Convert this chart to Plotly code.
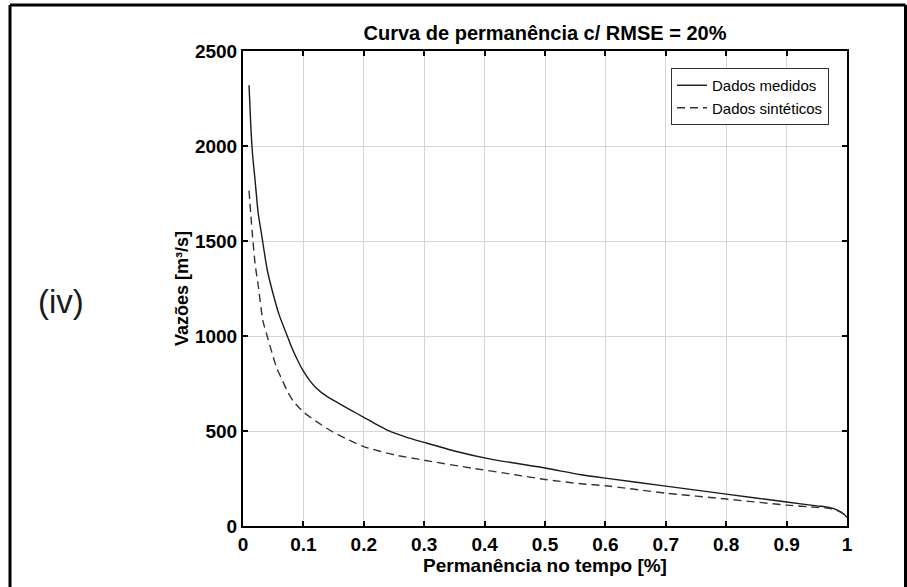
import plotly.graph_objects as go

# Flow duration curves (exceedance fraction vs. discharge)
perm_medidos = [0.01, 0.013, 0.016, 0.02, 0.025, 0.031, 0.04, 0.05, 0.06, 0.073,
                0.08, 0.09, 0.1, 0.11, 0.12, 0.13, 0.14, 0.15, 0.16, 0.18,
                0.2, 0.22, 0.24, 0.27, 0.3, 0.35, 0.41, 0.5, 0.56, 0.6,
                0.7, 0.8, 0.9, 0.95, 0.97, 0.985, 0.995, 1.0]
vazao_medidos = [2320, 2100, 1950, 1820, 1650, 1530, 1350, 1220, 1110, 1003,
                 945, 875, 815, 768, 730, 702, 680, 661, 643, 607,
                 572, 536, 503, 468, 440, 395, 352, 305, 270, 252,
                 210, 168, 126, 106, 98, 82, 62, 45]

perm_sinteticos = [0.01, 0.015, 0.02, 0.025, 0.033, 0.04, 0.05, 0.056, 0.065, 0.075,
                   0.083, 0.1, 0.12, 0.144, 0.17, 0.2, 0.25, 0.3, 0.38, 0.45,
                   0.5, 0.56, 0.6, 0.7, 0.8, 0.9, 0.95, 0.97, 0.985, 0.995, 1.0]
vazao_sinteticos = [1765, 1555, 1380, 1270, 1080, 1000, 890, 830, 767, 700,
                    658, 600, 553, 504, 460, 418, 375, 346, 304, 270,
                    245, 222, 212, 173, 142, 110, 98, 93, 80, 62, 45]

x_ticks = [0, 0.1, 0.2, 0.3, 0.4, 0.5, 0.6, 0.7, 0.8, 0.9, 1]
x_ticktext = ["0", "0.1", "0.2", "0.3", "0.4", "0.5", "0.6", "0.7", "0.8", "0.9", "1"]
y_ticks = [0, 500, 1000, 1500, 2000, 2500]

FONT = "Liberation Sans, Arial, sans-serif"

fig = go.Figure()
fig.add_trace(go.Scatter(
    x=perm_medidos, y=vazao_medidos, mode="lines", name="Dados medidos",
    line=dict(color="#1a1a1a", width=1.4, shape="spline", smoothing=0.6),
))
fig.add_trace(go.Scatter(
    x=perm_sinteticos, y=vazao_sinteticos, mode="lines", name="Dados sintéticos",
    line=dict(color="#333333", width=1.4, dash="8px,5px", shape="spline", smoothing=0.6),
))

axis_common = dict(
    showgrid=True, gridcolor="#d6d6d6", gridwidth=1,
    zeroline=False, showline=True, linecolor="black", linewidth=2,
    mirror="ticks", ticks="inside", ticklen=5, tickcolor="black", tickwidth=1.5,
    tickfont=dict(family=FONT, size=19, color="black", weight="bold"),
)

fig.update_layout(
    width=907, height=587,
    margin=dict(l=243, r=60, t=51, b=61),
    paper_bgcolor="white", plot_bgcolor="white",
    showlegend=True,
    legend=dict(
        x=(829 - 243) / 604, y=(526 - 68) / 475, xanchor="right", yanchor="top",
        bgcolor="white", bordercolor="#333333", borderwidth=1,
        font=dict(family=FONT, size=15, color="black"),
        tracegroupgap=0, itemwidth=30,
    ),
    title=dict(
        text="Curva de permanência c/ RMSE = 20%",
        x=0.5, xanchor="center", y=1 - 33 / 587, yanchor="middle",
        xref="paper", yref="container",
        font=dict(family=FONT, size=20, color="black", weight="bold"),
    ),
    xaxis=dict(
        range=[0, 1], tickvals=x_ticks, ticktext=x_ticktext,
        title=dict(text="Permanência no tempo [%]", standoff=4,
                   font=dict(family=FONT, size=19, color="black", weight="bold")),
        **axis_common,
    ),
    yaxis=dict(
        range=[0, 2500], tickvals=y_ticks,
        title=dict(text="Vazões [m³/s]", standoff=2,
                   font=dict(family=FONT, size=18, color="black", weight="bold")),
        **axis_common,
    ),
)

# Panel label
fig.add_annotation(
    text="(iv)", xref="paper", yref="paper",
    x=(61 - 243) / 604, y=(526 - 301) / 475, xanchor="center", yanchor="middle",
    showarrow=False, font=dict(family=FONT, size=33, color="#1a1a1a"),
)

# Outer panel frame
left, top, right, bottom = (10 - 243) / 604, (526 - 5) / 475, (905.5 - 243) / 604, -0.3
frame = dict(type="line", xref="paper", yref="paper", line=dict(color="black", width=3))
fig.add_shape(x0=left, x1=left, y0=bottom, y1=top, **frame)
fig.add_shape(x0=left, x1=right, y0=top, y1=top, **frame)
fig.add_shape(x0=right, x1=right, y0=bottom, y1=top, **frame)

fig.write_html("out.html")
